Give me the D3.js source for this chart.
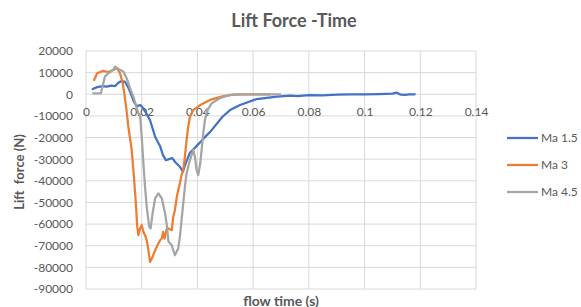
<!DOCTYPE html>
<html>
<head>
<meta charset="utf-8">
<script src="https://cdn.jsdelivr.net/npm/d3@7"></script>
<style>
  html, body { margin: 0; padding: 0; background: #fff; }
  svg { display: block; font-family: Lato, "Open Sans", sans-serif; }
</style>
</head>
<body>
<div id="chart"></div>
<script>
// Series names and colours
const seriesNames = ["Ma 1.5", "Ma 3", "Ma 4.5"];
const seriesColors = ["#4472C4", "#ED7D31", "#A5A5A5"];

// Ma 1.5: flow time (s) / lift force (N)
const timeMa15 = [0.0024, 0.004, 0.006, 0.0075, 0.009, 0.0105, 0.0115, 0.0125, 0.014, 0.0152,
  0.0162, 0.0172, 0.0182, 0.0195, 0.0205, 0.0215, 0.023, 0.0248, 0.0266, 0.0276,
  0.0287, 0.0298, 0.031, 0.032, 0.0337, 0.0348, 0.0358, 0.0373, 0.0385, 0.04,
  0.0415, 0.0433, 0.0445, 0.049, 0.0517, 0.0553, 0.0613, 0.0685, 0.0732, 0.076,
  0.08, 0.085, 0.09, 0.095, 0.1, 0.105, 0.11, 0.1115, 0.113, 0.1145, 0.116, 0.118];
const forceMa15 = [2400, 3300, 3800, 3500, 4000, 3800, 5200, 6000, 5800, 3000,
  0, -3500, -5500, -5000, -6500, -8500, -12000, -19600, -24000, -28000,
  -30500, -30000, -29500, -31300, -33500, -35800, -31800, -27000, -25500, -23500,
  -21500, -19000, -17500, -10400, -7300, -4950, -2200, -1100, -650, -900,
  -400, -500, -200, -100, 0, 100, 300, 800, -200, -300, 0, 0];

// Ma 3
const timeMa3 = [0.0029, 0.004, 0.0061, 0.0079, 0.0097, 0.0104, 0.0111, 0.0122, 0.0132, 0.014,
  0.0146, 0.0152, 0.0164, 0.0172, 0.0179, 0.0184, 0.0188, 0.0194, 0.02, 0.0206,
  0.0212, 0.0218, 0.0224, 0.023, 0.0239, 0.0248, 0.026, 0.0266, 0.0272, 0.0277,
  0.0282, 0.029, 0.0296, 0.0308, 0.0313, 0.0319, 0.0326, 0.0331, 0.0337, 0.0343,
  0.0349, 0.0355, 0.0361, 0.0367, 0.0373, 0.0385, 0.041, 0.0445, 0.049, 0.0529,
  0.058, 0.066];
const forceMa3 = [6600, 9700, 10800, 10300, 11200, 11700, 12200, 9700, 5100, -1850,
  -8000, -15000, -25800, -38000, -50500, -61300, -65100, -62000, -60500, -63600,
  -65100, -67500, -72000, -77500, -75200, -72100, -69000, -67500, -66700, -63600,
  -66700, -62000, -62000, -62800, -56700, -53600, -47400, -44300, -41200, -37400,
  -35000, -28900, -21200, -15000, -10400, -7300, -5000, -2600, -1000, -200,
  0, 0];

// Ma 4.5
const timeMa45 = [0.0026, 0.0053, 0.0068, 0.008, 0.0098, 0.0104, 0.0116, 0.0134, 0.0146, 0.0158,
  0.017, 0.0179, 0.0188, 0.0194, 0.02, 0.0206, 0.0212, 0.0218, 0.0227, 0.0232,
  0.0239, 0.0248, 0.026, 0.0272, 0.0284, 0.029, 0.0296, 0.0308, 0.0319, 0.0331,
  0.0337, 0.0343, 0.0349, 0.0355, 0.0361, 0.0373, 0.0385, 0.0391, 0.0397, 0.0403,
  0.041, 0.0415, 0.0421, 0.0427, 0.0436, 0.0451, 0.048, 0.0517, 0.055, 0.0697];
const forceMa45 = [400, 400, 8150, 9700, 11250, 12800, 11700, 10500, 7400, 2800,
  -1100, -5000, -8800, -9500, -19600, -32000, -42800, -52000, -61300, -62000,
  -55100, -48100, -45800, -48100, -55100, -60500, -68000, -69800, -74400, -71300,
  -65900, -58200, -50500, -42800, -36600, -30400, -25800, -28900, -35000, -37400,
  -31900, -25800, -18000, -11900, -7300, -4200, -1850, -300, 0, 0];

// Axis ticks
const xTicks = [0, 0.02, 0.04, 0.06, 0.08, 0.1, 0.12, 0.14];
const yTicks = [20000, 10000, 0, -10000, -20000, -30000, -40000, -50000, -60000, -70000, -80000, -90000];

const seriesData = [
  { name: seriesNames[0], color: seriesColors[0], t: timeMa15, f: forceMa15 },
  { name: seriesNames[1], color: seriesColors[1], t: timeMa3, f: forceMa3 },
  { name: seriesNames[2], color: seriesColors[2], t: timeMa45, f: forceMa45 },
].map((s) => ({ ...s, values: s.t.map((t, i) => ({ t, f: s.f[i] })) }));

const width = 581;
const height = 307;
const margin = { top: 51, right: 105, bottom: 18, left: 86 };
const innerWidth = width - margin.left - margin.right;
const innerHeight = height - margin.top - margin.bottom;

const svg = d3
  .select("#chart")
  .append("svg")
  .attr("width", width)
  .attr("height", height);

const g = svg
  .append("g")
  .attr("transform", `translate(${margin.left},${margin.top})`);

const x = d3.scaleLinear().domain([0, 0.14]).range([0, innerWidth]);
const y = d3.scaleLinear().domain([-90000, 20000]).range([innerHeight, 0]);

const textColor = "#595959";
const gridColor = "#D9D9D9";

// Gridlines
g.append("g")
  .selectAll("line")
  .data(yTicks)
  .enter()
  .append("line")
  .attr("x1", 0)
  .attr("x2", innerWidth)
  .attr("y1", (d) => y(d))
  .attr("y2", (d) => y(d))
  .style("stroke", gridColor)
  .style("stroke-width", 1);

g.append("g")
  .selectAll("line")
  .data(xTicks)
  .enter()
  .append("line")
  .attr("x1", (d) => x(d))
  .attr("x2", (d) => x(d))
  .attr("y1", 0)
  .attr("y2", innerHeight)
  .style("stroke", gridColor)
  .style("stroke-width", 1);

// Y tick labels (plain hyphen, no thousands separator)
const yAxis = d3.axisLeft(y).tickValues(yTicks).tickSize(0).tickPadding(13)
  .tickFormat((d) => String(d));
g.append("g")
  .call(yAxis)
  .call((a) => a.select(".domain").remove())
  .selectAll("text")
  .style("font-size", "12px")
  .style("font-family", "Lato, sans-serif")
  .style("fill", textColor);

// X tick labels sit on the zero line
const xAxis = d3.axisBottom(x).tickValues(xTicks).tickSize(0).tickPadding(13)
  .tickFormat((d) => String(+d.toFixed(2)));
g.append("g")
  .attr("transform", `translate(0,${y(0)})`)
  .call(xAxis)
  .call((a) => a.select(".domain").remove())
  .selectAll("text")
  .style("font-size", "12px")
  .style("font-family", "Lato, sans-serif")
  .style("fill", textColor);

// Lines
const line = d3
  .line()
  .x((d) => x(d.t))
  .y((d) => y(d.f));

g.selectAll(".line")
  .data(seriesData)
  .enter()
  .append("path")
  .attr("class", "line")
  .attr("d", (d) => line(d.values))
  .style("fill", "none")
  .style("stroke", (d) => d.color)
  .style("stroke-width", 2.25)
  .style("stroke-linejoin", "round")
  .style("stroke-linecap", "round");

// Title
svg.append("text")
  .attr("x", 294)
  .attr("y", 27)
  .style("text-anchor", "middle")
  .style("font-size", "18px")
  .style("font-weight", "bold")
  .style("fill", textColor)
  .text("Lift Force -Time");

// Axis titles
svg.append("text")
  .attr("transform", "rotate(-90)")
  .attr("x", -172)
  .attr("y", 24)
  .style("text-anchor", "middle")
  .style("font-size", "13px")
  .style("font-weight", "bold")
  .style("white-space", "pre")
  .style("fill", textColor)
  .text("Lift  force (N)");

svg.append("text")
  .attr("x", margin.left + innerWidth / 2)
  .attr("y", 306)
  .style("text-anchor", "middle")
  .style("font-size", "14px")
  .style("font-weight", "bold")
  .style("fill", textColor)
  .text("flow time (s)");

// Legend
const legend = svg
  .selectAll(".legend")
  .data(seriesData)
  .enter()
  .append("g")
  .attr("class", "legend")
  .attr("transform", (d, i) => `translate(507,${138 + i * 27})`);

legend.append("line")
  .attr("x1", 0)
  .attr("x2", 31)
  .style("stroke", (d) => d.color)
  .style("stroke-width", 2.25);

legend.append("text")
  .attr("x", 34)
  .attr("y", 4)
  .style("font-size", "12px")
  .style("fill", textColor)
  .text((d) => d.name);
</script>
</body>
</html>
